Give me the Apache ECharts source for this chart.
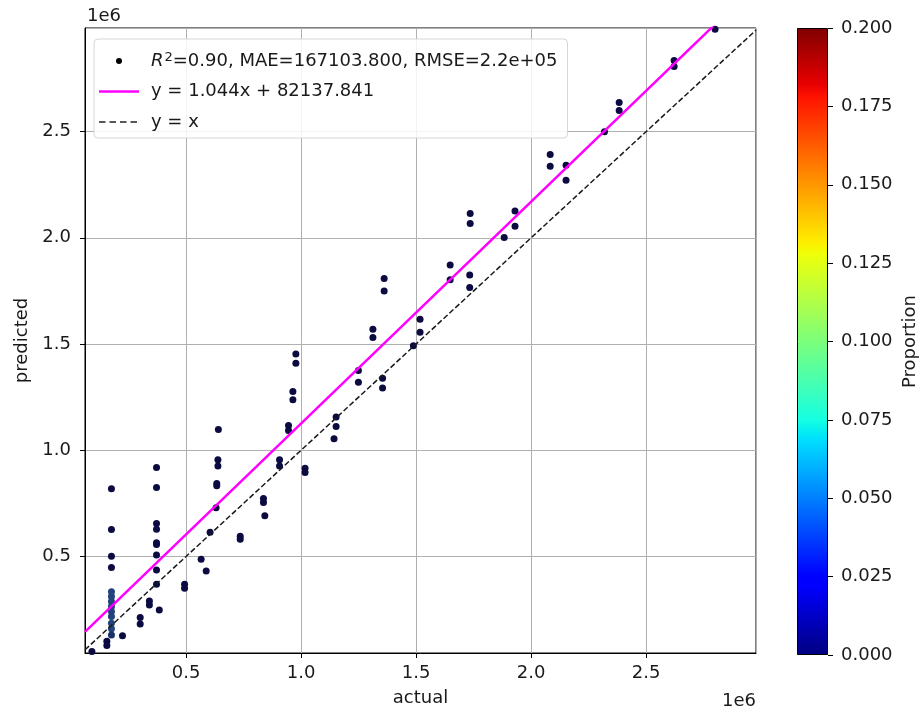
<!DOCTYPE html>
<html>
<head>
<meta charset="utf-8">
<script src="https://cdn.jsdelivr.net/npm/echarts@6/dist/echarts.min.js"></script>
<style>
html,body{margin:0;padding:0;background:#fff;}
#chart{width:920px;height:712px;}
</style>
</head>
<body>
<div id="chart"></div>
<script>
// ---- data ----
const actual = [
  175000,175000,175000,175000,175000,175000,175000,175000,175000,175000,175000,175000,175000,
  155000,155000,90000,223000,
  371000,371000,371000,371000,371000,371000,371000,371000,371000,383000,
  340000,340000,300000,300000,493000,493000,565000,587000,604000,
  630000,633000,633000,638000,638000,640000,735000,735000,
  836000,836000,842000,906000,906000,945000,945000,964000,964000,977000,977000,
  1017000,1017000,1143000,1152000,1152000,1249000,1249000,1312000,1312000,
  1354000,1354000,1361000,1361000,1488000,1517000,1517000,1648000,1648000,
  1733000,1733000,1735000,1735000,1883000,1930000,1930000,2083000,2083000,
  2152000,2152000,2319000,2383000,2383000,2622000,2622000,2800000
];
const predicted = [
  819000,627000,501000,448000,334000,311000,288000,264000,241000,217000,185000,159000,130000,
  100000,80000,52000,126000,
  919000,824000,655000,628000,564000,556000,506000,436000,369000,248000,
  290000,271000,212000,182000,369000,350000,486000,431000,613000,
  729000,843000,832000,955000,926000,1098000,595000,581000,
  772000,754000,691000,955000,926000,1116000,1093000,1276000,1238000,1453000,1409000,
  915000,895000,1054000,1156000,1111000,1375000,1320000,1570000,1531000,
  1339000,1293000,1808000,1750000,1492000,1617000,1555000,1872000,1802000,
  1825000,1766000,2114000,2068000,2001000,2126000,2055000,2392000,2337000,
  2342000,2271000,2500000,2637000,2600000,2835000,2807000,2982000
];
const proportion = [
  0,0,0,0,0.03,0.03,0.03,0.03,0.03,0.03,0.03,0.03,0.02,
  0,0,0,0,
  0,0,0,0,0,0,0,0,0,0,
  0,0,0,0,0,0,0,0,0,
  0,0,0,0,0,0,0,0,
  0,0,0,0,0,0,0,0,0,0,0,
  0,0,0,0,0,0,0,0,0,
  0,0,0,0,0,0,0,0,0,
  0,0,0,0,0,0,0,0,0,
  0,0,0,0,0,0,0,0
];
const fitSlope = 1.044;
const fitIntercept = 82137.841;
const xRange = [60000, 2978000];
const yRange = [45000, 2988000];
const colorbarRange = [0, 0.2];
const colorbarStep = 0.025;
const scatterName = 'R2=0.90, MAE=167103.800, RMSE=2.2e+05';
const fitName = 'y = 1.044x + 82137.841';
const identityName = 'y = x';
const axisTitles = {x: 'actual', y: 'predicted', cb: 'Proportion', offset: '1e6'};

// ---- build ----
const points = actual.map((a, i) => [a, predicted[i], proportion[i]]);
const fitLine = xRange.map(x => [x, fitSlope * x + fitIntercept]);
const identityLine = xRange.map(x => [x, x]);

const FONT = 'DejaVu Sans';
const TXT = '#1a1a1a';
const FS = 18;

const jet = [
  {offset: 0, color: 'rgb(0,0,128)'},
  {offset: 0.11, color: 'rgb(0,0,255)'},
  {offset: 0.125, color: 'rgb(0,0,255)'},
  {offset: 0.34, color: 'rgb(0,219,255)'},
  {offset: 0.35, color: 'rgb(0,230,247)'},
  {offset: 0.375, color: 'rgb(21,255,226)'},
  {offset: 0.64, color: 'rgb(239,255,8)'},
  {offset: 0.65, color: 'rgb(247,245,0)'},
  {offset: 0.66, color: 'rgb(255,236,0)'},
  {offset: 0.89, color: 'rgb(255,19,0)'},
  {offset: 0.91, color: 'rgb(232,0,0)'},
  {offset: 1, color: 'rgb(128,0,0)'}
];

const chart = echarts.init(document.getElementById('chart'), null, {renderer: 'canvas'});

const mainAxisCommon = {
  type: 'value',
  axisLine: {show: true, onZero: false, lineStyle: {color: '#000', width: 1}},
  axisTick: {show: true, length: 5, lineStyle: {color: '#000', width: 1}},
  splitLine: {show: true, lineStyle: {color: '#b0b0b0', width: 1}},
  axisLabel: {
    color: TXT, fontSize: FS, fontFamily: FONT,
    showMinLabel: false, showMaxLabel: false,
    formatter: v => (v / 1e6).toFixed(1)
  },
  nameTextStyle: {color: TXT, fontSize: FS, fontFamily: FONT}
};

const solidIcon = 'path://M0 0H40V2.5H0Z';
const dashedIcon = 'path://M0 0H6.5V1.5H0Z M10.5 0H17V1.5H10.5Z M21 0H27.5V1.5H21Z M31.5 0H38V1.5H31.5Z M39.9 0H40V1.5H39.9Z';

const option = {
  animation: false,
  backgroundColor: '#fff',
  textStyle: {fontFamily: FONT},
  grid: [
    {left: 85, right: 164, top: 28, bottom: 57, show: true, borderColor: '#000', borderWidth: 1, backgroundColor: 'transparent'},
    {left: 797, width: 32, top: 28, bottom: 57, show: false}
  ],
  xAxis: [
    Object.assign({}, mainAxisCommon, {
      gridIndex: 0, min: xRange[0], max: xRange[1],
      name: axisTitles.x, nameLocation: 'middle', nameGap: 36,
      axisLabel: Object.assign({}, mainAxisCommon.axisLabel, {margin: 11})
    }),
    {type: 'category', gridIndex: 1, data: [''], show: false}
  ],
  yAxis: [
    Object.assign({}, mainAxisCommon, {
      gridIndex: 0, min: yRange[0], max: yRange[1],
      name: axisTitles.y, nameLocation: 'middle', nameGap: 50,
      axisLabel: Object.assign({}, mainAxisCommon.axisLabel, {margin: 14})
    }),
    {
      type: 'value', gridIndex: 1, position: 'right',
      min: colorbarRange[0], max: colorbarRange[1], interval: colorbarStep,
      axisLine: {show: false},
      axisTick: {show: true, length: 5, lineStyle: {color: '#000'}},
      splitLine: {show: false},
      axisLabel: {color: TXT, fontSize: FS, fontFamily: FONT, margin: 13, formatter: v => v.toFixed(3)},
      name: axisTitles.cb, nameLocation: 'middle', nameGap: 73,
      nameTextStyle: {color: TXT, fontSize: FS, fontFamily: FONT}
    }
  ],
  visualMap: {
    show: false, type: 'continuous', dimension: 2, seriesIndex: 0,
    min: 0, max: 0.04,
    inRange: {color: ['#0b0b42', '#2a5690']}
  },
  legend: {
    orient: 'vertical', left: 94, top: 39,
    padding: [12, 10, 6, 5],
    itemGap: 10.5, itemWidth: 40, itemHeight: 6,
    backgroundColor: 'rgba(255,255,255,0.85)',
    borderColor: '#d6d6d6', borderWidth: 1, borderRadius: 4,
    data: [
      {name: scatterName, icon: 'circle', itemStyle: {color: '#000'}},
      {name: fitName, icon: solidIcon, itemStyle: {color: '#ff00ff'}},
      {name: identityName, icon: dashedIcon, itemStyle: {color: '#222'}}
    ],
    formatter: function (name) {
      if (name === scatterName) {
        return '{it|R}{sup|2}{n|=0.90, MAE=167103.800, RMSE=2.2e+05}';
      }
      return '{n|' + name + '}';
    },
    textStyle: {
      color: TXT, fontSize: FS, fontFamily: FONT, lineHeight: 20, padding: [0, 0, 0, 7],
      rich: {
        it: {fontStyle: 'italic', fontSize: FS, fontFamily: FONT, color: TXT, lineHeight: 20},
        sup: {fontSize: 13, fontFamily: FONT, color: TXT, lineHeight: 12, verticalAlign: 'top', padding: [0, 0, 0, 1]},
        n: {fontSize: FS, fontFamily: FONT, color: TXT, lineHeight: 20}
      }
    }
  },
  graphic: [
    {type: 'text', left: 87, top: 7, style: {text: axisTitles.offset, fontSize: FS, fontFamily: FONT, fill: TXT}},
    {type: 'text', right: 164, top: 692, style: {text: axisTitles.offset, fontSize: FS, fontFamily: FONT, fill: TXT}}
  ],
  series: [
    {
      name: scatterName, type: 'scatter', xAxisIndex: 0, yAxisIndex: 0,
      data: points, symbolSize: 7, z: 3,
      itemStyle: {opacity: 1}
    },
    {
      name: fitName, type: 'line', xAxisIndex: 0, yAxisIndex: 0,
      data: fitLine, symbol: 'none', showSymbol: false, clip: true, z: 4,
      lineStyle: {color: '#ff00ff', width: 2.5},
      itemStyle: {color: '#ff00ff'}
    },
    {
      name: identityName, type: 'line', xAxisIndex: 0, yAxisIndex: 0,
      data: identityLine, symbol: 'none', showSymbol: false, clip: true, z: 4,
      lineStyle: {color: '#1a1a1a', width: 1.5, type: [5.5, 2.5]},
      itemStyle: {color: '#1a1a1a'}
    },
    {
      name: 'colorbar', type: 'bar', xAxisIndex: 1, yAxisIndex: 1,
      data: [colorbarRange[1]], barWidth: '100%', silent: true,
      itemStyle: {
        color: new echarts.graphic.LinearGradient(0, 1, 0, 0, jet),
        borderColor: '#000', borderWidth: 1
      }
    }
  ]
};
chart.setOption(option);
</script>
</body>
</html>
